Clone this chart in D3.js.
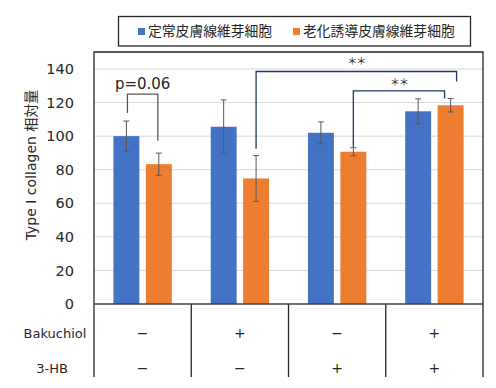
<!DOCTYPE html>
<html>
<head>
<meta charset="utf-8">
<script src="https://cdn.jsdelivr.net/npm/d3@7"></script>
<style>
  body { margin: 0; background: #fff; }
  text { font-family: "DejaVu Sans", "Noto Sans CJK JP", sans-serif; fill: #262626; }
  .jp { font-family: "Noto Sans CJK JP", sans-serif; }
</style>
</head>
<body>
<div class="vis-holder"></div>
<script>
// data
var groups = ["g1", "g2", "g3", "g4"];
var series = ["定常皮膚線維芽細胞", "老化誘導皮膚線維芽細胞"];
var normalVals = [100, 105.6, 102, 114.8];
var normalErr = [9, 16, 6.5, 7.4];
var agedVals = [83.3, 74.8, 90.7, 118.4];
var agedErr = [6.6, 13.6, 2.4, 4];
var bakuchiol = ["−", "+", "−", "+"];
var hb3 = ["−", "−", "+", "+"];
var yTicks = [0, 20, 40, 60, 80, 100, 120, 140];
var colors = ["#4472C4", "#ED7D31"];

var width = 496;
var height = 388;
var margin = { top: 52, bottom: 84, left: 94, right: 13 };

var svg = d3.select(".vis-holder")
            .append("svg")
            .attr("width", width)
            .attr("height", height);

var xScale = d3.scaleBand()
               .domain(groups)
               .range([margin.left, width - margin.right]);

var xInner = d3.scaleBand()
               .domain([0, 1])
               .range([0, xScale.bandwidth()])
               .paddingInner(0.2)
               .paddingOuter(0.6);

var yScale = d3.scaleLinear()
               .domain([0, 140])
               .range([height - margin.bottom, 69]);

// gridlines
svg.append("g")
   .selectAll("line")
   .data(yTicks.slice(1))
   .enter()
   .append("line")
   .attr("x1", margin.left)
   .attr("x2", width - margin.right)
   .attr("y1", d => yScale(d))
   .attr("y2", d => yScale(d))
   .attr("stroke", "#D9D9D9")
   .attr("stroke-width", 1);

// y axis labels
var yAxis = svg.append("g")
               .attr("transform", `translate(${margin.left - 20}, 0)`)
               .call(d3.axisLeft(yScale).tickValues(yTicks).tickSize(0).tickPadding(0));
yAxis.select(".domain").remove();
yAxis.selectAll("text")
     .style("font-family", "DejaVu Sans")
     .style("font-size", "14.5px")
     .attr("fill", "#262626");

// bars
var rows = [];
groups.forEach(function(g, i) {
  rows.push({ g: g, s: 0, v: normalVals[i], e: normalErr[i] });
  rows.push({ g: g, s: 1, v: agedVals[i], e: agedErr[i] });
});

svg.append("g")
   .selectAll("rect")
   .data(rows)
   .enter()
   .append("rect")
   .attr("x", d => xScale(d.g) + xInner(d.s))
   .attr("y", d => yScale(d.v))
   .attr("width", xInner.bandwidth())
   .attr("height", d => yScale(0) - yScale(d.v))
   .attr("fill", d => colors[d.s]);

// error bars
var err = svg.append("g")
             .attr("stroke", "#595959")
             .attr("stroke-width", 1);
rows.forEach(function(d) {
  var cx = xScale(d.g) + xInner(d.s) + xInner.bandwidth() / 2;
  err.append("line").attr("x1", cx).attr("x2", cx)
     .attr("y1", yScale(d.v + d.e)).attr("y2", yScale(d.v - d.e));
  err.append("line").attr("x1", cx - 3).attr("x2", cx + 3)
     .attr("y1", yScale(d.v + d.e)).attr("y2", yScale(d.v + d.e));
  err.append("line").attr("x1", cx - 3).attr("x2", cx + 3)
     .attr("y1", yScale(d.v - d.e)).attr("y2", yScale(d.v - d.e));
});

// significance brackets
function barX(gi, s) {
  return xScale(groups[gi]) + xInner(s) + xInner.bandwidth() / 2;
}
function bracket(x1, y1, x2, y2, top, color) {
  svg.append("path")
     .attr("d", `M${x1},${yScale(y1)}V${yScale(top)}H${x2}V${yScale(y2)}`)
     .attr("fill", "none")
     .attr("stroke", color)
     .attr("stroke-width", 1.3);
}
function stars(x, v) {
  svg.append("text")
     .attr("class", "jp")
     .attr("x", x)
     .attr("y", yScale(v))
     .attr("dy", "0.35em")
     .attr("text-anchor", "middle")
     .style("font-size", "10px")
     .style("letter-spacing", "-1px")
     .attr("fill", "#404040")
     .text("＊＊");
}
bracket(barX(0, 0) + 1, 113.8, barX(0, 1) - 1, 97.3, 125, "#595959");
svg.append("text")
   .attr("x", (barX(0, 0) + barX(0, 1)) / 2)
   .attr("y", yScale(131.5))
   .attr("dy", "0.35em")
   .attr("text-anchor", "middle")
   .style("font-size", "15px")
   .text("p=0.06");

bracket(barX(1, 1), 92.5, barX(3, 1) + 6, 132.5, 138.5, "#1F3864");
stars((barX(1, 1) + barX(3, 1) + 6) / 2, 144.5);
bracket(barX(2, 1), 93.5, barX(3, 1) - 6, 122.5, 127, "#1F3864");
stars((barX(2, 1) + barX(3, 1) - 6) / 2, 131.7);

// frame around plot and table
var frame = svg.append("g").attr("stroke", "#262626").attr("stroke-width", 1.3).attr("fill", "none");
var bottomY = 377;
frame.append("path")
     .attr("d", `M${margin.left},${bottomY}V${margin.top}H${width - margin.right}V${bottomY}`);
svg.append("line")
   .attr("x1", margin.left).attr("x2", width - margin.right)
   .attr("y1", yScale(0)).attr("y2", yScale(0))
   .attr("stroke", "#404040").attr("stroke-width", 1.5);
groups.slice(1).forEach(function(g) {
  frame.append("line")
       .attr("x1", xScale(g)).attr("x2", xScale(g))
       .attr("y1", yScale(0)).attr("y2", bottomY);
});

// table rows
var rowY = [333, 368];
[bakuchiol, hb3].forEach(function(signs, r) {
  svg.append("g")
     .selectAll("text")
     .data(groups)
     .enter()
     .append("text")
     .attr("x", d => xScale(d) + xScale.bandwidth() / 2)
     .attr("y", rowY[r])
     .attr("dy", "0.35em")
     .attr("text-anchor", "middle")
     .style("font-size", "14px")
     .text((d, i) => signs[i]);
});
svg.append("text").attr("x", 55).attr("y", rowY[0]).attr("dy", "0.35em")
   .attr("text-anchor", "middle").style("font-size", "13px").text("Bakuchiol");
svg.append("text").attr("x", 52).attr("y", rowY[1]).attr("dy", "0.35em")
   .attr("text-anchor", "middle").style("font-size", "13px").text("3-HB");

// y axis title
svg.append("text")
   .attr("text-anchor", "middle")
   .attr("transform", "translate(36,165)rotate(-90)")
   .style("font-size", "14px")
   .text("Type I collagen 相対量");

// legend
var legend = svg.append("g");
legend.append("rect")
      .attr("x", 118.5).attr("y", 16.5).attr("width", 352).attr("height", 29.5)
      .attr("fill", "#fff").attr("stroke", "#262626").attr("stroke-width", 1.3);
var legX = [138, 293];
series.forEach(function(s, i) {
  legend.append("rect")
        .attr("x", legX[i]).attr("y", 28).attr("width", 7).attr("height", 7)
        .attr("fill", colors[i]);
  legend.append("text")
        .attr("class", "jp")
        .attr("x", legX[i] + 10).attr("y", 31.5).attr("dy", "0.35em")
        .style("font-size", "13.8px")
        .text(s);
});
</script>
</body>
</html>
